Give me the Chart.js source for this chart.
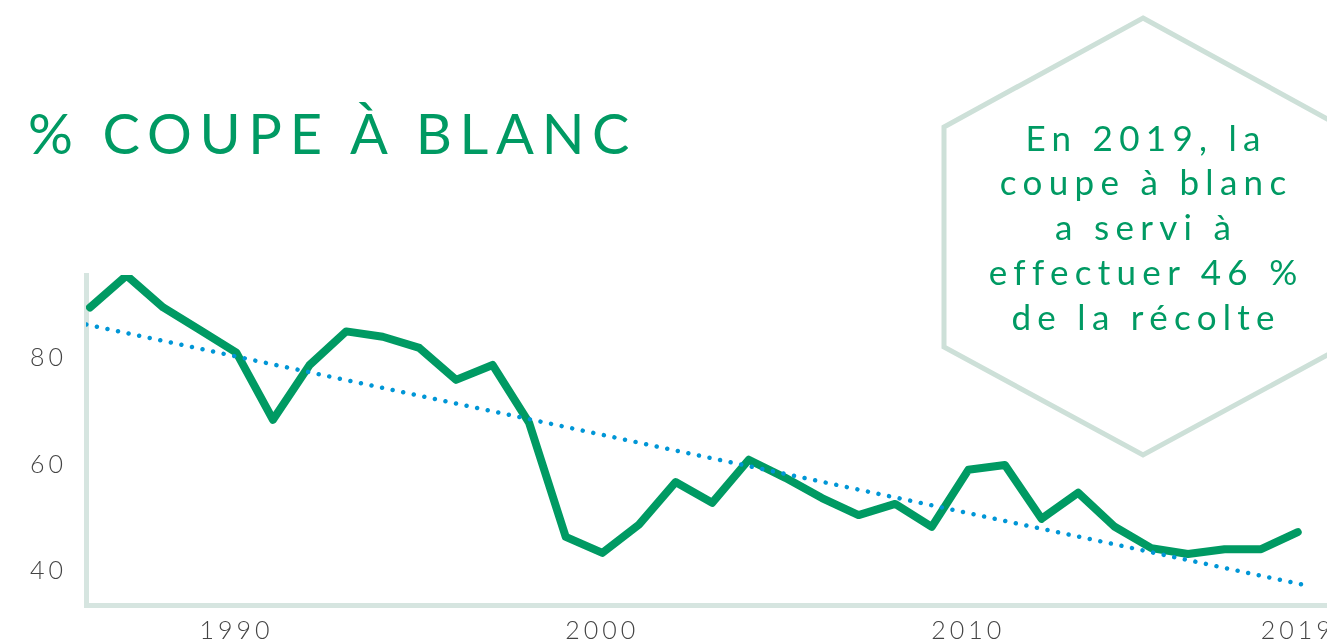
<!DOCTYPE html>
<html lang="fr">
<head>
<meta charset="utf-8">
<script src="https://cdn.jsdelivr.net/npm/chart.js@4/dist/chart.umd.min.js"></script>
<style>
  html, body { margin:0; padding:0; background:#ffffff; width:1327px; height:641px; overflow:hidden; }
  #wrap { position:relative; width:1327px; height:641px; }
  #hex { position:absolute; left:0; top:0; }
  #chart { position:absolute; left:0; top:0; }
  #title { position:absolute; left:28px; top:99px; font-family:Lato, "Open Sans", sans-serif; font-size:56px; line-height:1.2; letter-spacing:7.7px; color:#009a63; white-space:nowrap; }
  #note { position:absolute; left:943px; top:114.5px; width:400px; text-align:center; font-family:Lato, "Open Sans", sans-serif; font-size:35px; line-height:44.75px; letter-spacing:6.3px; padding-left:6.3px; box-sizing:border-box; color:#009a63; white-space:nowrap; }
</style>
</head>
<body>
<div id="wrap">
  <svg id="hex" width="1327" height="641">
    <polygon points="1143,18 1342,127 1342,347 1143,455 944,347 944,127" fill="none" stroke="#cde0d8" stroke-width="5"/>
  </svg>
  <canvas id="chart" width="1327" height="641"></canvas>
  <div id="title">% COUPE À BLANC</div>
  <div id="note">En 2019, la<br>coupe à blanc<br>a servi à<br>effectuer 46 %<br>de la récolte</div>
</div>
<script>
const years = [1986,1987,1988,1989,1990,1991,1992,1993,1994,1995,1996,1997,1998,1999,2000,2001,2002,2003,2004,2005,2006,2007,2008,2009,2010,2011,2012,2013,2014,2015,2016,2017,2018,2019];
const clearcutPct = [89.5,95.5,89.5,85.3,81.0,68.4,78.7,85.0,84.0,81.9,75.9,78.7,67.8,46.4,43.4,48.7,56.7,52.8,60.9,57.5,53.7,50.5,52.6,48.3,59.0,59.9,49.8,54.7,48.3,44.3,43.2,44.1,44.1,47.3];
const trendYears = [1985.9, 2019.1];
const trendPct = [86.3, 37.5];
const xTicks = [1990, 2000, 2010, 2019];
const yTicks = [40, 60, 80];

const GREEN = '#009a63';
const BLUE = '#0096d6';
const AXIS = '#d6e5e0';

const letterSpacingPlugin = {
  id: 'ls',
  beforeDraw(chart) { chart.ctx.letterSpacing = '4px'; }
};

new Chart(document.getElementById('chart'), {
  type: 'line',
  data: {
    datasets: [
      {
        data: years.map((y, i) => ({ x: y, y: clearcutPct[i] })),
        borderColor: GREEN,
        borderWidth: 8,
        borderJoinStyle: 'round',
        borderCapStyle: 'round',
        pointRadius: 0,
        tension: 0,
        fill: false,
        order: 1
      },
      {
        data: trendYears.map((y, i) => ({ x: y, y: trendPct[i] })),
        borderColor: BLUE,
        borderWidth: 4.5,
        borderDash: [0.001, 10.8],
        borderCapStyle: 'round',
        pointRadius: 0,
        fill: false,
        order: 0
      }
    ]
  },
  options: {
    responsive: false,
    animation: false,
    events: [],
    layout: { padding: { top: 275, left: 0, right: 0, bottom: 0 } },
    plugins: { legend: { display: false }, tooltip: { enabled: false }, title: { display: false } },
    scales: {
      x: {
        type: 'linear',
        min: 1985.891,
        max: 2019.8,
        grid: { display: false, drawTicks: false },
        border: { display: true, color: AXIS, width: 5 },
        afterBuildTicks(s) { s.ticks = xTicks.map(v => ({ value: v })); },
        afterFit(s) { s.height = 36; s.paddingLeft = 0; s.paddingRight = 0; },
        ticks: {
          autoSkip: false,
          maxRotation: 0,
          padding: 11,
          color: '#444444',
          font: { family: 'Lato', size: 25, weight: 300 },
          callback: v => String(v)
        }
      },
      y: {
        min: 33.615,
        max: 95.59,
        grid: { display: false, drawTicks: false },
        border: { display: true, color: AXIS, width: 5 },
        afterBuildTicks(s) { s.ticks = yTicks.map(v => ({ value: v })); },
        afterFit(s) { s.width = 86; s.paddingTop = 0; s.paddingBottom = 0; },
        ticks: {
          padding: 19,
          color: '#444444',
          font: { family: 'Lato', size: 25, weight: 300 },
          callback: v => String(v)
        }
      }
    }
  },
  plugins: [letterSpacingPlugin]
});
</script>
</body>
</html>
